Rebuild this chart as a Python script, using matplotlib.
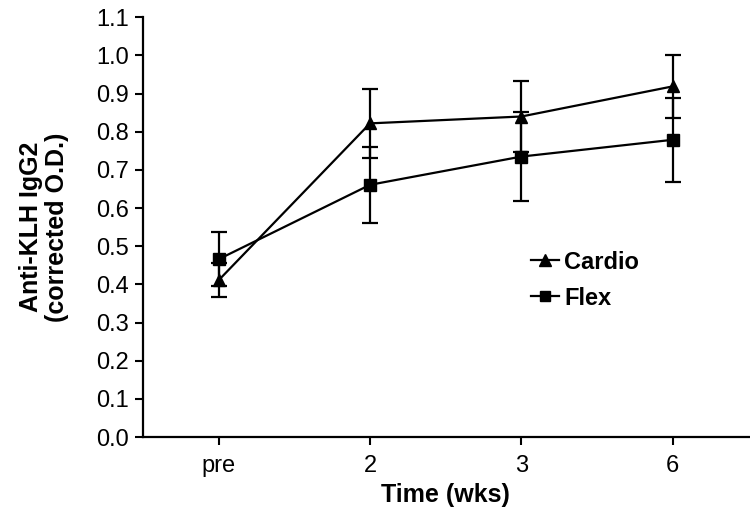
import numpy as np
import matplotlib
matplotlib.use("Agg")
import matplotlib.pyplot as plt
from matplotlib.lines import Line2D

plt.rcParams['font.family'] = ['Liberation Sans', 'DejaVu Sans']

# data
times = ['pre', '2', '3', '6']
cardio = [0.411, 0.822, 0.840, 0.919]
cardio_err = [0.044, 0.090, 0.094, 0.082]
flex = [0.466, 0.661, 0.735, 0.779]
flex_err = [0.070, 0.099, 0.116, 0.110]
yticks = [0.0, 0.1, 0.2, 0.3, 0.4, 0.5, 0.6, 0.7, 0.8, 0.9, 1.0, 1.1]

fig = plt.figure(figsize=(7.5, 5.16), dpi=100)
ax = fig.add_axes([143 / 750, 1 - 437 / 516, (748.5 - 143) / 750, (437 - 17.3) / 516])

x = np.arange(len(times))
ax.errorbar(x, cardio, yerr=cardio_err, color='black', marker='^', markersize=9,
            linewidth=1.6, elinewidth=1.6, capsize=6, capthick=1.6)
ax.errorbar(x, flex, yerr=flex_err, color='black', marker='s', markersize=8.5,
            linewidth=1.6, elinewidth=1.6, capsize=6, capthick=1.6)

ax.set_xlim(-0.5, 3.5)
ax.set_ylim(0, 1.1)
ax.set_xticks(x)
ax.set_xticklabels(times)
ax.set_yticks(yticks)
ax.set_yticklabels(['%.1f' % v for v in yticks])
ax.tick_params(labelsize=17, direction='out', length=6, width=1.5, colors='black')
ax.tick_params(axis='x', pad=7)
ax.tick_params(axis='y', pad=4)
for s in ['top', 'right']:
    ax.spines[s].set_visible(False)
for s in ['left', 'bottom']:
    ax.spines[s].set_linewidth(1.6)

ax.set_xlabel('Time (wks)', fontsize=18, fontweight='bold')
ax.xaxis.set_label_coords(0.5, -0.11)
ax.set_ylabel('Anti-KLH IgG2\n(corrected O.D.)', fontsize=18, fontweight='bold',
              linespacing=1.1)
ax.yaxis.set_label_coords(-0.122, 0.5)

handles = [Line2D([], [], color='black', marker='^', markersize=8, linewidth=1.6),
           Line2D([], [], color='black', marker='s', markersize=7.5, linewidth=1.6)]
ax.legend(handles, ['Cardio', 'Flex'], loc='center left', bbox_to_anchor=(0.641, 0.374),
          frameon=False, prop={'size': 17, 'weight': 'bold'},
          handlelength=1.2, handletextpad=0.2, labelspacing=0.55,
          borderpad=0, borderaxespad=0)

fig.savefig('out.png', dpi=100)
